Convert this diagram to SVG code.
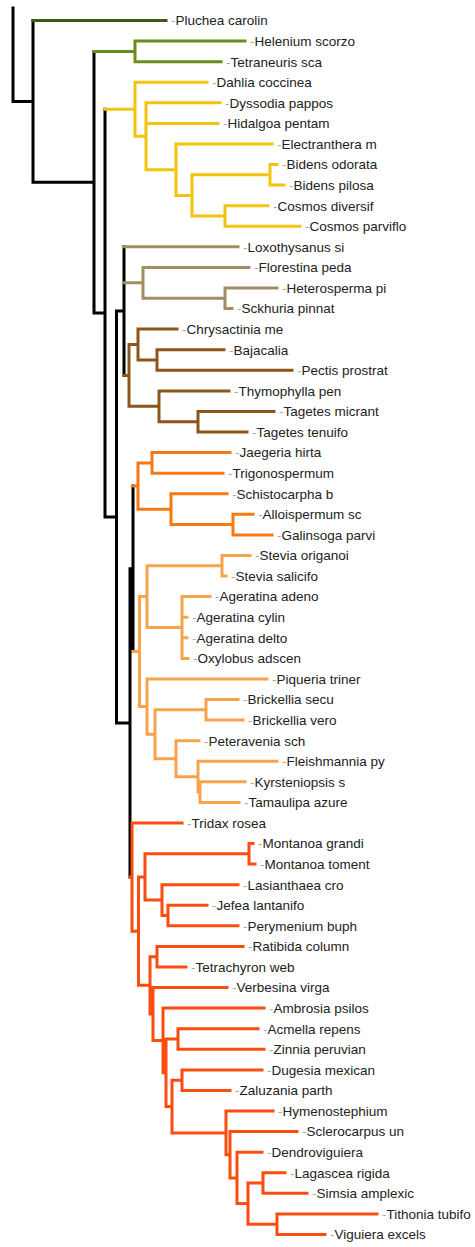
<svg xmlns="http://www.w3.org/2000/svg" width="475" height="1247" viewBox="0 0 475 1247">
<style>
.e{fill:none;stroke-width:3;stroke-linecap:square;stroke-linejoin:miter}
.k{stroke:#000}
.g1{stroke:#385b0f}
.g2{stroke:#6a8c1c}
.y{stroke:#f2c40c}
.t{stroke:#a38d64}
.b{stroke:#8c561a}
.o{stroke:#f57a14}
.lo{stroke:#f7a34c}
.r{stroke:#fa4d0f}
text{font-family:"Liberation Sans",Arial,sans-serif;font-size:13.5px;fill:#222}
.d{fill:#aaa}
</style>
<rect width="475" height="1247" fill="#fff"/>
<g id="connectors">
<path class="e k" d="M13 8V101.4H33 M33 20.5V182.25 M33 182.25H94 M94 51.4V313.1 M94 313.1H105 M105 109.2V517 M105 517H116.5 M116.5 311.1V723 M116.5 311.1H124 M116.5 723H130 M124 246.8V375.4 M130 568.8V877.1 M130 568.8H133 M133 486V651.6"/>
<path class="e g1" d="M33 20.5H166"/>
<path class="e g2" d="M94 51.4H135 M135 41.1V61.7 M135 41.1H245 M135 61.7H221"/>
<path class="e y" d="M105 109.2H135 M135 82.2V136.25 M135 82.2H207 M135 136.25H146 M146 102.8V169.7 M146 102.8H220 M146 123.4H218 M146 169.7H176 M176 143.96V195.4 M176 143.96H272 M176 195.4H192 M192 174.8V216 M192 174.8H270 M270 164.5V185.1 M270 164.5H277 M270 185.1H284 M192 216H225 M225 205.7V226.3 M225 205.7H268 M225 226.3H300"/>
<path class="e t" d="M124 246.8H238 M124 282.85H143 M143 267.4V298.3 M143 267.4H249 M143 298.3H225 M225 288V308.6 M225 288H277 M225 308.6H232"/>
<path class="e b" d="M124 375.4H129 M129 344.55V406.3 M129 344.55H138 M138 329.1V360 M138 329.1H177 M138 360H157 M157 349.7V370.3 M157 349.7H224 M157 370.3H292 M129 406.3H159 M159 390.9V421.7 M159 390.9H229 M159 421.7H198 M198 411.4V432 M198 411.4H274 M198 432H247"/>
<path class="e o" d="M133 486H138 M138 462.9V509.15 M138 462.9H152 M152 452.6V473.2 M152 452.6H230 M152 473.2H223 M138 509.15H171 M171 493.7V524.6 M171 493.7H227 M171 524.6H233 M233 514.3V534.9 M233 514.3H253 M233 534.9H272"/>
<path class="e lo" d="M133 651.6H139.5 M139.5 596.6V706.6 M139.5 596.6H147 M147 565.75V627.5 M147 565.75H222 M222 555.5V576 M222 555.5H250 M222 576H226 M147 627.5H182 M182 596.6V658.4 M182 596.6H210 M182 617.2H187 M182 637.8H187 M182 658.4H188 M139.5 706.6H147 M147 678.9V734.25 M147 678.9H267 M147 734.25H155 M155 709.8V758.7 M155 709.8H206 M206 699.5V720.1 M206 699.5H238 M206 720.1H243 M155 758.7H176 M176 740.7V776.65 M176 740.7H199 M176 776.65H198 M198 761.2V792.1 M198 761.2H277 M198 792.1H200 M200 781.8V802.4 M200 781.8H245 M200 802.4H239"/>
<path class="e r" d="M130 877.1H132 M132 823V931.15 M132 823H182 M132 931.15H138.5 M138.5 876.95V985.35 M138.5 876.95H145 M145 853.8V900.1 M145 853.8H249 M249 843.5V864.1 M249 843.5H253 M249 864.1H255 M145 900.1H162 M162 884.7V915.55 M162 884.7H238 M162 915.55H168 M168 905.3V925.8 M168 905.3H207 M168 925.8H238 M138.5 985.35H150 M150 956.7V1014 M150 956.7H157 M157 946.4V967 M157 946.4H243 M157 967H186 M150 1014H153 M153 987.6V1040.45 M153 987.6H227 M153 1040.45H163 M163 1008.1V1072.8 M163 1008.1H264 M163 1072.8H166 M166 1039V1106.55 M166 1039H178 M178 1028.7V1049.3 M178 1028.7H258 M178 1049.3H264 M166 1106.55H172 M172 1080.2V1132.9 M172 1080.2H182 M182 1069.9V1090.5 M182 1069.9H262 M182 1090.5H230 M172 1132.9H226 M226 1111V1154.75 M226 1111H273 M226 1154.75H230 M230 1131.6V1177.9 M230 1131.6H297 M230 1177.9H237 M237 1152.2V1203.6 M237 1152.2H262 M237 1203.6H248 M248 1183.05V1224.2 M248 1183.05H263 M263 1172.8V1193.3 M263 1172.8H285 M263 1193.3H307 M248 1224.2H277 M277 1213.9V1234.5 M277 1213.9H377 M277 1234.5H325"/>
</g>
<g id="n1"><text x="171" y="25.3"><tspan class="d">-</tspan>Pluchea carolin</text></g>
<g id="n2"><text x="250" y="45.9"><tspan class="d">-</tspan>Helenium scorzo</text></g>
<g id="n3"><text x="226" y="66.5"><tspan class="d">-</tspan>Tetraneuris sca</text></g>
<g id="n4"><text x="212" y="87"><tspan class="d">-</tspan>Dahlia coccinea</text></g>
<g id="n5"><text x="225" y="107.6"><tspan class="d">-</tspan>Dyssodia pappos</text></g>
<g id="n6"><text x="223" y="128.2"><tspan class="d">-</tspan>Hidalgoa pentam</text></g>
<g id="n7"><text x="277" y="148.8"><tspan class="d">-</tspan>Electranthera m</text></g>
<g id="n8"><text x="282" y="169.3"><tspan class="d">-</tspan>Bidens odorata</text></g>
<g id="n9"><text x="289" y="189.9"><tspan class="d">-</tspan>Bidens pilosa</text></g>
<g id="n10"><text x="273" y="210.5"><tspan class="d">-</tspan>Cosmos diversif</text></g>
<g id="n11"><text x="305" y="231.1"><tspan class="d">-</tspan>Cosmos parviflo</text></g>
<g id="n12"><text x="243" y="251.6"><tspan class="d">-</tspan>Loxothysanus si</text></g>
<g id="n13"><text x="254" y="272.2"><tspan class="d">-</tspan>Florestina peda</text></g>
<g id="n14"><text x="282" y="292.8"><tspan class="d">-</tspan>Heterosperma pi</text></g>
<g id="n15"><text x="237" y="313.4"><tspan class="d">-</tspan>Sckhuria pinnat</text></g>
<g id="n16"><text x="182" y="333.9"><tspan class="d">-</tspan>Chrysactinia me</text></g>
<g id="n17"><text x="229" y="354.5"><tspan class="d">-</tspan>Bajacalia</text></g>
<g id="n18"><text x="297" y="375.1"><tspan class="d">-</tspan>Pectis prostrat</text></g>
<g id="n19"><text x="234" y="395.7"><tspan class="d">-</tspan>Thymophylla pen</text></g>
<g id="n20"><text x="279" y="416.2"><tspan class="d">-</tspan>Tagetes micrant</text></g>
<g id="n21"><text x="252" y="436.8"><tspan class="d">-</tspan>Tagetes tenuifo</text></g>
<g id="n22"><text x="235" y="457.4"><tspan class="d">-</tspan>Jaegeria hirta</text></g>
<g id="n23"><text x="228" y="478"><tspan class="d">-</tspan>Trigonospermum</text></g>
<g id="n24"><text x="232" y="498.5"><tspan class="d">-</tspan>Schistocarpha b</text></g>
<g id="n25"><text x="258" y="519.1"><tspan class="d">-</tspan>Alloispermum sc</text></g>
<g id="n26"><text x="277" y="539.7"><tspan class="d">-</tspan>Galinsoga parvi</text></g>
<g id="n27"><text x="255" y="560.3"><tspan class="d">-</tspan>Stevia origanoi</text></g>
<g id="n28"><text x="231" y="580.8"><tspan class="d">-</tspan>Stevia salicifo</text></g>
<g id="n29"><text x="215" y="601.4"><tspan class="d">-</tspan>Ageratina adeno</text></g>
<g id="n30"><text x="192" y="622"><tspan class="d">-</tspan>Ageratina cylin</text></g>
<g id="n31"><text x="192" y="642.6"><tspan class="d">-</tspan>Ageratina delto</text></g>
<g id="n32"><text x="193" y="663.2"><tspan class="d">-</tspan>Oxylobus adscen</text></g>
<g id="n33"><text x="272" y="683.7"><tspan class="d">-</tspan>Piqueria triner</text></g>
<g id="n34"><text x="243" y="704.3"><tspan class="d">-</tspan>Brickellia secu</text></g>
<g id="n35"><text x="248" y="724.9"><tspan class="d">-</tspan>Brickellia vero</text></g>
<g id="n36"><text x="204" y="745.5"><tspan class="d">-</tspan>Peteravenia sch</text></g>
<g id="n37"><text x="282" y="766"><tspan class="d">-</tspan>Fleishmannia py</text></g>
<g id="n38"><text x="250" y="786.6"><tspan class="d">-</tspan>Kyrsteniopsis s</text></g>
<g id="n39"><text x="244" y="807.2"><tspan class="d">-</tspan>Tamaulipa azure</text></g>
<g id="n40"><text x="187" y="827.8"><tspan class="d">-</tspan>Tridax rosea</text></g>
<g id="n41"><text x="258" y="848.3"><tspan class="d">-</tspan>Montanoa grandi</text></g>
<g id="n42"><text x="260" y="868.9"><tspan class="d">-</tspan>Montanoa toment</text></g>
<g id="n43"><text x="243" y="889.5"><tspan class="d">-</tspan>Lasianthaea cro</text></g>
<g id="n44"><text x="212" y="910.1"><tspan class="d">-</tspan>Jefea lantanifo</text></g>
<g id="n45"><text x="243" y="930.6"><tspan class="d">-</tspan>Perymenium buph</text></g>
<g id="n46"><text x="248" y="951.2"><tspan class="d">-</tspan>Ratibida column</text></g>
<g id="n47"><text x="191" y="971.8"><tspan class="d">-</tspan>Tetrachyron web</text></g>
<g id="n48"><text x="232" y="992.4"><tspan class="d">-</tspan>Verbesina virga</text></g>
<g id="n49"><text x="269" y="1012.9"><tspan class="d">-</tspan>Ambrosia psilos</text></g>
<g id="n50"><text x="263" y="1033.5"><tspan class="d">-</tspan>Acmella repens</text></g>
<g id="n51"><text x="269" y="1054.1"><tspan class="d">-</tspan>Zinnia peruvian</text></g>
<g id="n52"><text x="267" y="1074.7"><tspan class="d">-</tspan>Dugesia mexican</text></g>
<g id="n53"><text x="235" y="1095.3"><tspan class="d">-</tspan>Zaluzania parth</text></g>
<g id="n54"><text x="278" y="1115.8"><tspan class="d">-</tspan>Hymenostephium</text></g>
<g id="n55"><text x="302" y="1136.4"><tspan class="d">-</tspan>Sclerocarpus un</text></g>
<g id="n56"><text x="267" y="1157"><tspan class="d">-</tspan>Dendroviguiera</text></g>
<g id="n57"><text x="290" y="1177.6"><tspan class="d">-</tspan>Lagascea rigida</text></g>
<g id="n58"><text x="312" y="1198.1"><tspan class="d">-</tspan>Simsia amplexic</text></g>
<g id="n59"><text x="382" y="1218.7"><tspan class="d">-</tspan>Tithonia tubifo</text></g>
<g id="n60"><text x="330" y="1239.3"><tspan class="d">-</tspan>Viguiera excels</text></g>
</svg>
